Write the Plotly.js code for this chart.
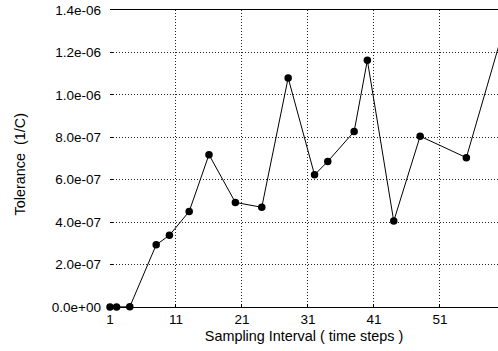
<!DOCTYPE html>
<html><head><meta charset="utf-8">
<script src="https://cdn.plot.ly/plotly-3.0.1.min.js"></script>
<style>html,body{margin:0;padding:0;background:#fff;}#chart{width:498px;height:351px;}</style>
</head><body><div id="chart"></div>
<script>
const intervals = [1, 2, 4, 8, 10, 13, 16, 20, 24, 28, 32, 34, 38, 40, 44, 48, 55, 60];
const tolerance = [0, 0, 0.01e-7, 2.93e-7, 3.38e-7, 4.5e-7, 7.18e-7, 4.93e-7, 4.7e-7, 1.08e-6, 6.23e-7, 6.86e-7, 8.27e-7, 1.163e-6, 4.05e-7, 8.05e-7, 7.04e-7, 1.24e-6];
const xTicks = [1, 11, 21, 31, 41, 51];
const yTickVals = [0, 2e-7, 4e-7, 6e-7, 8e-7, 1.0e-6, 1.2e-6, 1.4e-6];
const yTickText = ["0.0e+00", "2.0e-07", "4.0e-07", "6.0e-07", "8.0e-07", "1.0e-06", "1.2e-06", "1.4e-06"];

const fam = "Liberation Sans, Arial, sans-serif";
const tickFont = {family: fam, size: 13.5, color: "#000"};
const titleFont = {family: fam, size: 14.4, color: "#000"};
const trace = {
  x: intervals, y: tolerance, type: "scatter", mode: "lines+markers",
  line: {color: "#000", width: 1},
  marker: {color: "#000", size: 7.5},
  cliponaxis: false, showlegend: false
};
const layout = {
  width: 498, height: 351,
  margin: {l: 110, r: 0, t: 10, b: 44},
  paper_bgcolor: "#fff", plot_bgcolor: "#fff",
  font: {family: fam, size: 13, color: "#000"},
  xaxis: {
    range: [1, 59.8], tickvals: xTicks, ticktext: xTicks.map(String),
    tickfont: tickFont, ticklabelstandoff: 0,
    showgrid: true, gridcolor: "#222", griddash: "1px,2px", gridwidth: 1,
    showline: true, linecolor: "#000", linewidth: 1, mirror: true,
    ticks: "inside", ticklen: 3, tickcolor: "#000",
    zeroline: false,
    title: {text: "Sampling Interval ( time steps )", font: titleFont, standoff: 4}
  },
  yaxis: {
    range: [0, 1.4e-6], tickvals: yTickVals, ticktext: yTickText,
    tickfont: tickFont, ticklabelstandoff: 8,
    showgrid: true, gridcolor: "#222", griddash: "1px,2px", gridwidth: 1,
    showline: false, zeroline: false,
    ticks: "inside", ticklen: 3, tickcolor: "#000"
  },
  annotations: [{
    text: "Tolerance  (1/C)", xref: "paper", yref: "paper",
    x: -0.232, y: 0.48, xanchor: "center", yanchor: "middle",
    textangle: -90, showarrow: false, font: titleFont
  }]
};
Plotly.newPlot("chart", [trace], layout, {staticPlot: true, displayModeBar: false});
</script></body></html>
